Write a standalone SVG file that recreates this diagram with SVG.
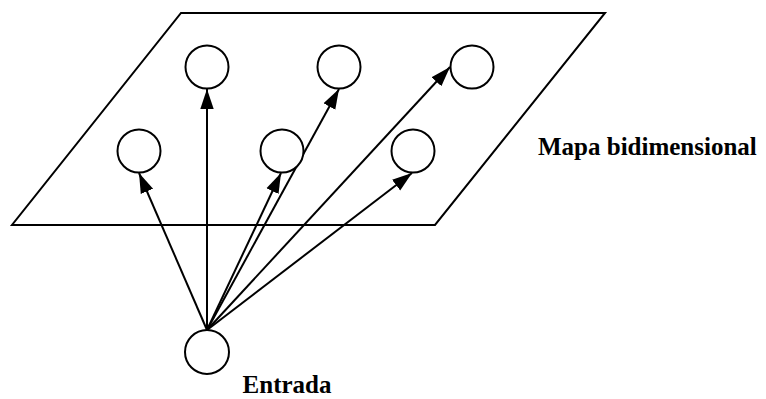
<svg xmlns="http://www.w3.org/2000/svg" width="766" height="399" viewBox="0 0 766 399">
  <style>
    .plane { fill: none; stroke: #000; stroke-width: 2; }
    .unit { fill: #fff; stroke: #000; stroke-width: 2; }
    .link { fill: none; stroke: #000; stroke-width: 2; marker-end: url(#head); }
    .label { font-family: "Liberation Serif", "Times New Roman", serif; font-weight: bold; font-size: 25px; fill: #000; }
  </style>
  <defs>
    <marker id="head" markerUnits="userSpaceOnUse" markerWidth="21" markerHeight="15" refX="20" refY="7.5" orient="auto">
      <path d="M0,0.8 L20,7.5 L0,14.2 Z" fill="#000"/>
    </marker>
  </defs>
  <rect width="766" height="399" fill="#fff"/>

  <!-- two-dimensional map plane -->
  <g id="map">
    <polygon class="plane" points="181,13 605,13 435,225 12,225"/>
    <text class="label" x="538" y="155">Mapa bidimensional</text>
  </g>

  <!-- connectors from the input unit to the map units -->
  <g id="connectors">
    <line class="link" x1="207" y1="330" x2="139" y2="173"/>
    <line class="link" x1="207" y1="330" x2="207" y2="89"/>
    <line class="link" x1="207" y1="330" x2="281" y2="173"/>
    <line class="link" x1="207" y1="330" x2="339" y2="89"/>
    <line class="link" x1="207" y1="330" x2="450" y2="67"/>
    <line class="link" x1="207" y1="330" x2="412" y2="173"/>
  </g>

  <!-- map units -->
  <g id="unit-top-1"><circle class="unit" cx="207" cy="67" r="21.5"/></g>
  <g id="unit-top-2"><circle class="unit" cx="339" cy="67" r="21.5"/></g>
  <g id="unit-top-3"><circle class="unit" cx="472" cy="67" r="21.5"/></g>
  <g id="unit-bottom-1"><circle class="unit" cx="139" cy="151" r="21.5"/></g>
  <g id="unit-bottom-2"><circle class="unit" cx="282" cy="151" r="21.5"/></g>
  <g id="unit-bottom-3"><circle class="unit" cx="413" cy="151" r="21.5"/></g>

  <!-- input unit -->
  <g id="input">
    <circle class="unit" cx="207" cy="352" r="22"/>
    <text class="label" x="287" y="393" text-anchor="middle">Entrada</text>
  </g>
</svg>
